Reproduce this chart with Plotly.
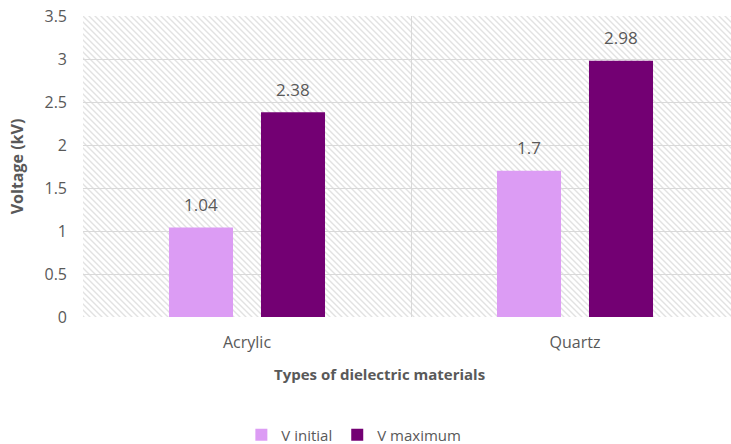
import base64
import plotly.graph_objects as go

categories = ["Acrylic", "Quartz"]
v_initial = [1.04, 1.7]
v_maximum = [2.38, 2.98]
series_names = ["V initial", "V maximum"]
colors = ["#DC9CF4", "#730073"]
x_title = "Types of dielectric materials"
y_title = "Voltage (kV)"

W, H = 731, 444
L, R, T, B = 83, 0, 16, 127
pw, ph = W - L - R, H - T - B
cat_px = 328.0  # pixel width of one category band

# diagonal hatch backdrop (decoration only)
svg = (
    f'<svg xmlns="http://www.w3.org/2000/svg" width="{pw}" height="{ph}" viewBox="0 0 {pw} {ph}">'
    '<defs><pattern id="h" patternUnits="userSpaceOnUse" width="6" height="6">'
    '<path d="M-1,-1 L7,7 M-1,5 L1,7 M5,-1 L7,1" stroke="#e2e2e2" stroke-width="1.4"/>'
    '</pattern></defs>'
    f'<rect width="{pw}" height="{ph}" fill="#ffffff"/>'
    f'<rect width="{pw}" height="{ph}" fill="url(#h)"/></svg>'
)
src = "data:image/svg+xml;base64," + base64.b64encode(svg.encode()).decode()

FONT = "Open Sans, Lato, sans-serif"

fig = go.Figure()
for name, vals, col in zip(series_names, [v_initial, v_maximum], colors):
    fig.add_trace(go.Bar(x=categories, y=vals, name=name, marker=dict(color=col, line=dict(width=0))))

# data labels
for vals, shift in zip([v_initial, v_maximum], [-46, 46]):
    for c, v in zip(categories, vals):
        fig.add_annotation(x=c, y=v, text=f"{v:g}", showarrow=False, xshift=shift,
                           yshift=23, font=dict(family=FONT, size=17, color="#595959"))

# x-axis title (placed like the reference, slightly left of plot centre)
fig.add_annotation(xref="paper", yref="paper", x=0.458, y=-0.19, text=f"<b>{x_title}</b>",
                   showarrow=False, xanchor="center", yanchor="middle",
                   font=dict(family=FONT, size=15, color="#595959"))

span = pw / cat_px
fig.update_layout(
    width=W, height=H,
    margin=dict(l=L, r=R, t=T, b=B, pad=0, autoexpand=False),
    paper_bgcolor="white", plot_bgcolor="rgba(0,0,0,0)",
    font=dict(family=FONT, color="#595959", size=16),
    barmode="group", bargap=0.439, bargroupgap=0.304,
    showlegend=True,
    legend=dict(orientation="h", x=0.418, xanchor="center", yref="container", y=0.02,
                yanchor="middle",
                font=dict(family=FONT, size=15, color="#595959"), itemwidth=30, tracegroupgap=0,
                traceorder="normal"),
    images=[dict(source=src, xref="paper", yref="paper", x=0, y=1, sizex=1, sizey=1,
                 xanchor="left", yanchor="top", sizing="stretch", layer="below")],
)
fig.update_yaxes(range=[0, 3.5], dtick=0.5, tick0=0, showgrid=True, gridcolor="#d9d9d9",
                 gridwidth=1.3, zeroline=False, showline=False, ticks="",
                 ticklabelstandoff=15, tickfont=dict(size=16, color="#595959"),
                 title=dict(text=f"<b>{y_title}</b>", font=dict(size=16, color="#595959"), standoff=16),
                 automargin=False, fixedrange=True)
fig.update_xaxes(type="category", range=[-0.5, -0.5 + span], tickson="boundaries",
                 showgrid=True, gridcolor="#d9d9d9", gridwidth=1.3, zeroline=False,
                 showline=False, ticks="", ticklabelstandoff=14,
                 tickfont=dict(size=16, color="#595959"),
                 automargin=False, fixedrange=True)

fig.write_html("out.html")
